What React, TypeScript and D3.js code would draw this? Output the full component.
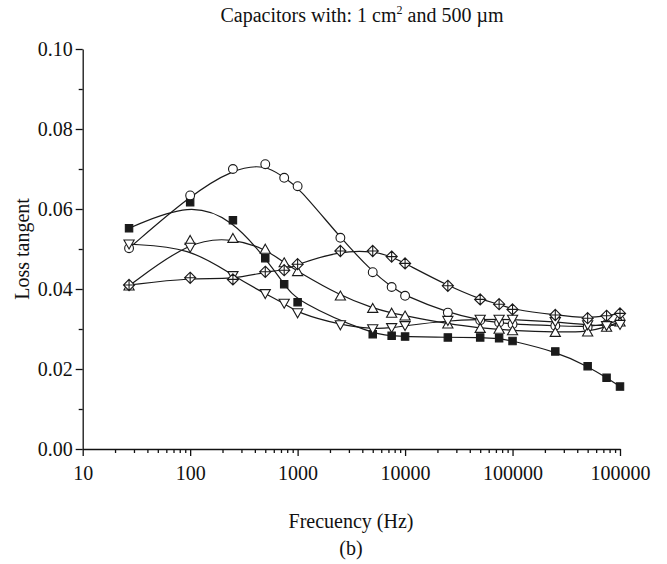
import React, { useEffect, useRef } from "react";
import * as d3 from "d3";

// frequency points (Hz), shared by every sample
const frequencies = [
  27, 100, 250, 500, 750, 1000, 2500, 5000, 7500, 10000, 25000, 50000, 75000,
  100000, 250000, 500000, 750000, 1000000,
];

// null = no point measured at that frequency
const squareValues = [
  0.0552, 0.0617, 0.0572, 0.0477, 0.0412, 0.0367, null, 0.0287, 0.0283,
  0.0281, 0.0279, 0.0279, 0.0277, 0.027, 0.0244, 0.0207, 0.0178, 0.0156,
];
const circleValues = [
  0.0502, 0.0634, 0.07, 0.0712, 0.0678, 0.0657, 0.0528, 0.0442, 0.0405,
  0.0383, 0.0341, 0.0322, 0.0316, 0.0312, 0.0308, 0.0305, 0.0312, 0.0322,
];
const upTriangleValues = [
  0.0408, 0.0522, 0.0527, 0.05, 0.0466, 0.0444, 0.0383, 0.0352, 0.034,
  0.0333, 0.0313, 0.0302, 0.03, 0.0296, 0.0292, 0.0293, 0.0305, 0.0318,
];
const downTriangleValues = [
  0.0512, 0.0504, 0.0433, 0.0388, 0.0364, 0.034, 0.031, 0.03, 0.0303,
  0.0308, 0.0321, 0.0324, 0.0324, 0.0324, 0.0318, 0.031, 0.0308, 0.0311,
];
const crossDiamondValues = [
  0.041, 0.0428, 0.0424, 0.0443, 0.0447, 0.0462, 0.0495, 0.0495, 0.0481,
  0.0464, 0.0408, 0.0374, 0.0362, 0.0349, 0.0335, 0.0327, 0.0333, 0.0339,
];

const xTickValues = [10, 100, 1000, 10000, 100000, 1000000];
const xTickLabels = ["10", "100", "1000", "10000", "100000", "100000"];
const yTickValues = [0, 0.02, 0.04, 0.06, 0.08, 0.1];
const yMinorTicks = [0.01, 0.03, 0.05, 0.07, 0.09];

const WIDTH = 667;
const HEIGHT = 564;
const FONT = "'Liberation Serif', 'Times New Roman', serif";

const shapes = {
  square: "M-3.7,-3.7H3.7V3.7H-3.7Z",
  up: "M0,-4.8L5.1,4.2H-5.1Z",
  down: "M0,4.8L5.1,-4.2H-5.1Z",
  diamond: "M0,-5.6L5.6,0L0,5.6L-5.6,0Z M-5.6,0H5.6 M0,-5.6V5.6",
};

const series = [
  { values: squareValues, marker: "square" },
  { values: circleValues, marker: "circle" },
  { values: upTriangleValues, marker: "up" },
  { values: downTriangleValues, marker: "down" },
  { values: crossDiamondValues, marker: "diamond" },
];

const App = () => {
  const svgRef = useRef(null);

  useEffect(() => {
    const svg = d3.select(svgRef.current);
    svg.selectAll("*").remove();

    const x = d3.scaleLog().domain([10, 1000000]).range([82.7, 620]);
    const y = d3.scaleLinear().domain([0, 0.1]).range([449, 49]);

    const minorX = [];
    for (let p = 10; p < 1000000; p *= 10)
      for (let k = 2; k <= 9; k++) minorX.push(p * k);

    // x axis
    const xAxis = svg.append("g").attr("transform", "translate(0,449)");
    xAxis
      .call(
        d3
          .axisBottom(x)
          .tickValues(xTickValues)
          .tickFormat((d, i) => xTickLabels[i])
          .tickSize(7)
          .tickSizeOuter(0),
      )
      .call((g) => g.selectAll("text").attr("dy", "0.95em").attr("y", 12));
    xAxis
      .append("g")
      .call(
        d3.axisBottom(x).tickValues(minorX).tickFormat(() => "").tickSize(4),
      )
      .call((g) => g.select(".domain").remove());

    // y axis
    const yAxis = svg.append("g").attr("transform", "translate(82.7,0)");
    yAxis.call(
      d3
        .axisLeft(y)
        .tickValues(yTickValues)
        .tickFormat(d3.format(".2f"))
        .tickSize(7)
        .tickSizeOuter(0)
        .tickPadding(3),
    );
    yAxis
      .append("g")
      .call(
        d3.axisLeft(y).tickValues(yMinorTicks).tickFormat(() => "").tickSize(4),
      )
      .call((g) => g.select(".domain").remove());

    svg
      .selectAll(".tick text")
      .attr("font-family", FONT)
      .attr("font-size", 20)
      .attr("fill", "#111");
    svg
      .selectAll(".domain, .tick line")
      .attr("stroke", "#111")
      .attr("stroke-width", 1.3);

    // smooth B-spline lines
    const line = d3
      .line()
      .x((d) => x(d[0]))
      .y((d) => y(d[1]))
      .curve(d3.curveBasis);

    series.forEach((s) => {
      const pts = frequencies
        .map((f, i) => [f, s.values[i]])
        .filter((d) => d[1] != null);
      svg
        .append("path")
        .attr("d", line(pts))
        .attr("fill", "none")
        .attr("stroke", "#1a1a1a")
        .attr("stroke-width", 1.2);
    });

    series.forEach((s) => {
      const g = svg.append("g");
      frequencies.forEach((f, i) => {
        if (s.values[i] == null) return;
        const m = g
          .append("g")
          .attr("transform", `translate(${x(f)},${y(s.values[i])})`);
        if (s.marker === "circle") {
          m.append("circle")
            .attr("r", 4.4)
            .attr("fill", "white")
            .attr("stroke", "#1a1a1a")
            .attr("stroke-width", 1.1);
        } else {
          m.append("path")
            .attr("d", shapes[s.marker])
            .attr("fill", s.marker === "square" ? "#1a1a1a" : "white")
            .attr("stroke", "#1a1a1a")
            .attr("stroke-width", 1.1);
        }
      });
    });

    // titles
    const title = svg
      .append("text")
      .attr("x", 362)
      .attr("y", 22)
      .attr("text-anchor", "middle")
      .attr("font-family", FONT)
      .attr("font-size", 20)
      .attr("fill", "#111");
    title.append("tspan").text("Capacitors with: 1 cm");
    title.append("tspan").attr("font-size", 12).attr("dy", -8).text("2");
    title.append("tspan").attr("dy", 8).text(" and 500 µm");

    svg
      .append("text")
      .attr("transform", "translate(29,249) rotate(-90)")
      .attr("text-anchor", "middle")
      .attr("font-family", FONT)
      .attr("font-size", 20)
      .attr("fill", "#111")
      .text("Loss tangent");

    svg
      .append("text")
      .attr("x", 351)
      .attr("y", 528)
      .attr("text-anchor", "middle")
      .attr("font-family", FONT)
      .attr("font-size", 20)
      .attr("fill", "#111")
      .text("Frecuency (Hz)");

    svg
      .append("text")
      .attr("x", 351)
      .attr("y", 555)
      .attr("text-anchor", "middle")
      .attr("font-family", FONT)
      .attr("font-size", 20)
      .attr("fill", "#111")
      .text("(b)");
  }, []);

  return (
    <svg
      ref={svgRef}
      width={WIDTH}
      height={HEIGHT}
      style={{ position: "absolute", left: 0, top: 0, background: "white" }}
    />
  );
};

export default App;
